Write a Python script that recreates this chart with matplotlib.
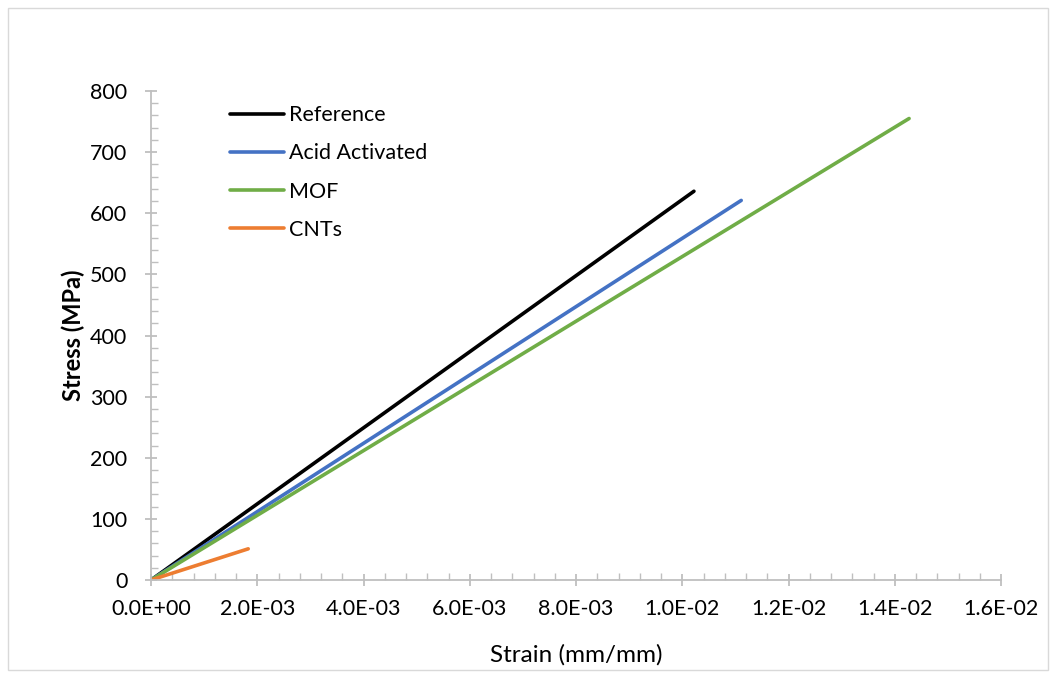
import matplotlib
matplotlib.use("Agg")
import matplotlib.pyplot as plt
from matplotlib.ticker import MultipleLocator, FuncFormatter
from matplotlib.patches import Rectangle

plt.rcParams['font.family'] = ['Lato', 'DejaVu Sans']

series_names = ["Reference", "Acid Activated", "MOF", "CNTs"]
colors = ["#000000", "#4472C4", "#70AD47", "#ED7D31"]
strain_start = [0.0, 0.0, 0.0, 0.0]
strain_end = [0.01022, 0.01111, 0.01427, 0.00183]
stress_start = [0.0, 0.0, 0.0, 0.0]
stress_end = [636, 621, 755, 51]

fig = plt.figure(figsize=(10.5, 6.75), dpi=100)
ax = fig.add_axes([151/1050, 1-580/675, 850/1050, 489/675])

for name, c, x0, x1, y0, y1 in zip(series_names, colors, strain_start, strain_end, stress_start, stress_end):
    ax.plot([x0, x1], [y0, y1], color=c, lw=2.6, label=name, solid_capstyle='round')

ax.set_xlim(0, 0.016)
ax.set_ylim(0, 800)
ax.xaxis.set_major_locator(MultipleLocator(0.002))
ax.xaxis.set_minor_locator(MultipleLocator(0.0004))
ax.yaxis.set_major_locator(MultipleLocator(100))
ax.yaxis.set_minor_locator(MultipleLocator(20))

def sci(v, pos):
    return "%.1E" % v
ax.xaxis.set_major_formatter(FuncFormatter(sci))

for sp in ['top', 'right']:
    ax.spines[sp].set_visible(False)
for sp in ['left', 'bottom']:
    ax.spines[sp].set_color('#bfbfbf')
    ax.spines[sp].set_linewidth(1.3)

ax.tick_params(which='major', direction='inout', length=8, width=1.3, color='#bfbfbf', labelsize=15.5)
ax.tick_params(which='minor', direction='in', length=5, width=1.0, color='#bfbfbf')
ax.tick_params(axis='x', which='major', pad=10)
ax.tick_params(axis='y', which='major', pad=13)

ax.set_xlabel("Strain (mm/mm)", fontsize=17.5, labelpad=18)
ax.set_ylabel("Stress (MPa)", fontsize=17, fontweight='bold', labelpad=4)

leg = ax.legend(loc='upper left', bbox_to_anchor=(0.078, 0.997), frameon=False, fontsize=15.5,
                handlelength=2.5, handletextpad=0.25, labelspacing=0.84, borderaxespad=0.2)

fig.patches.append(Rectangle((8/1050, 5/675), 1040/1050, 662/675, transform=fig.transFigure,
                             fill=False, edgecolor='#d9d9d9', lw=1))

fig.savefig("out.png", dpi=100)
